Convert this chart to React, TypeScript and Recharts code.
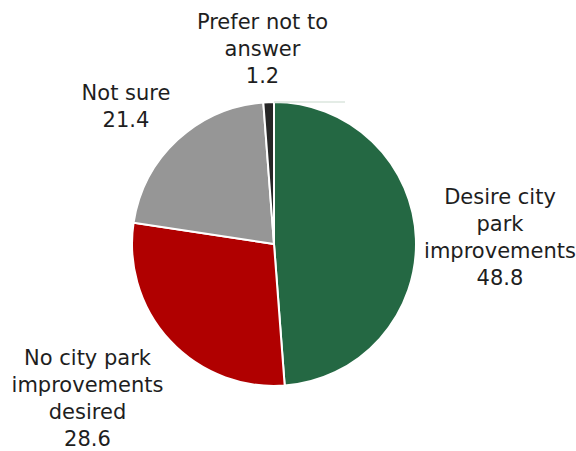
import React from 'react';
import { PieChart, Pie, Cell } from 'recharts';

const categories = [
  'Desire city park improvements',
  'No city park improvements desired',
  'Not sure',
  'Prefer not to answer',
];
const values = [48.8, 28.6, 21.4, 1.2];
const labelLines = [
  ['Desire city', 'park', 'improvements', '48.8'],
  ['No city park', 'improvements', 'desired', '28.6'],
  ['Not sure', '21.4'],
  ['Prefer not to', 'answer', '1.2'],
];

const COLORS = ['#246843', '#B00000', '#969696', '#262626'];
// label block centre (mean baseline), relative to the pie centre
const LABEL_OFFSETS = [
  [226, 0.5],
  [-186.5, 161.5],
  [-148, -130.5],
  [-11.5, -188],
];

const data = categories.map((name, i) => ({ name, value: values[i] }));

const FONT = '"DejaVu Sans", sans-serif';
const LINE_H = 27;

const renderLabel = (props: any) => {
  const { cx, cy, outerRadius, index } = props;
  const [dx, dy] = LABEL_OFFSETS[index];
  const lines = labelLines[index];
  const x = cx + dx;
  const y0 = cy + dy - ((lines.length - 1) * LINE_H) / 2;
  return (
    <g key={`lbl-${index}`}>
      {index === 0 && (
        <line
          x1={cx}
          y1={cy - outerRadius}
          x2={cx + 71}
          y2={cy - outerRadius}
          stroke="#c9d9cd"
          strokeWidth={1}
        />
      )}
      <text
        x={x}
        y={y0}
        textAnchor="middle"
        fill="#1e1e1e"
        fontSize={21}
        fontFamily={FONT}
      >
        {lines.map((t, i) => (
          <tspan key={i} x={x} y={y0 + i * LINE_H}>
            {t}
          </tspan>
        ))}
      </text>
    </g>
  );
};

export default function App() {
  return (
    <div
      style={{
        position: 'fixed',
        left: 0,
        top: 0,
        width: 576,
        height: 451,
        background: '#fff',
        overflow: 'hidden',
      }}
    >
      <PieChart
        width={576}
        height={451}
        margin={{ top: 0, right: 0, bottom: 0, left: 0 }}
        style={{ overflow: 'visible' }}
      >
        <Pie
          data={data}
          dataKey="value"
          nameKey="name"
          cx={274}
          cy={244}
          outerRadius={142}
          startAngle={90}
          endAngle={-270}
          stroke="#ffffff"
          strokeWidth={2}
          label={renderLabel}
          labelLine={false}
          isAnimationActive={false}
        >
          {data.map((d, i) => (
            <Cell key={d.name} fill={COLORS[i]} />
          ))}
        </Pie>
      </PieChart>
    </div>
  );
}
